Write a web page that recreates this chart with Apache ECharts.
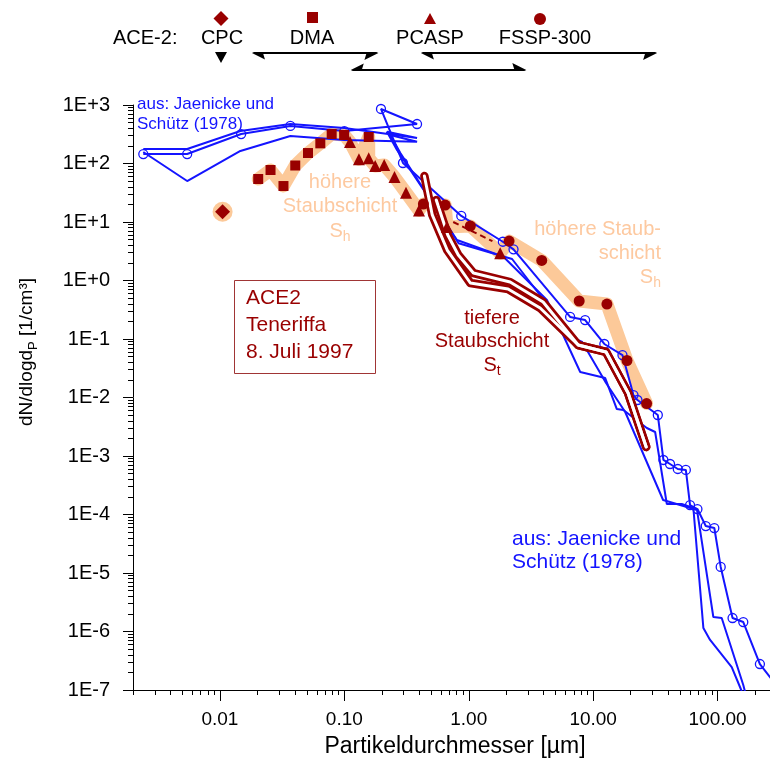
<!DOCTYPE html>
<html><head><meta charset="utf-8">
<script src="https://cdn.jsdelivr.net/npm/echarts@6/dist/echarts.min.js"></script>
<style>html,body{margin:0;padding:0;background:#fff}#c{width:770px;height:760px}</style>
</head><body><div id="c"></div>
<script>
// ---------- data (particle diameter in µm, dN/dlogdP in 1/cm³) ----------
// Jaenicke & Schütz (1978) curves
const jaenA_d = [0.00242,0.00545,0.0148,0.0368,0.100,0.384,0.197,0.296,0.871,1.88,2.29,6.53,8.62,12.3,17.2,21.1,22.7,33.1,36.7,41.5,47.9,55.6,60.1,68.9,80.4,94.2,106,132,161,219,300];
const jaenA_n = [145,145,319,438,359,473,855,102,12.7,4.60,3.41,0.238,0.211,0.0822,0.0532,0.0110,0.00906,0.00502,0.000855,0.00073,0.0006,0.000577,1.45e-4,1.24e-4,6.35e-5,5.87e-5,1.27e-5,1.70e-6,1.45e-6,2.78e-7,1.17e-7];
const jaenB_d = [0.00242,0.00545,0.0146,0.0368,0.100,0.384,0.220,0.265,0.491,0.804,1.90,4.25,7.87,12.5,15.5,17.5,27.0,31.5,39.1,51.5,63.9,76.9,87.1,130,155,166];
const jaenB_n = [177,177,359,473,404,273,350,170,23.8,4.92,2.55,0.464,0.0273,0.0215,0.00635,0.00611,0.00301,0.00257,1.51e-4,1.51e-4,1.29e-4,1.15e-6,7.16e-7,2.47e-7,1e-7,6.7e-8];
const jaenC_d = [0.00242,0.00545,0.0146,0.0368,0.100,0.384,0.234,0.282,0.828,2.23,6.90,8.16,12.7,18.1,36.5,68.4,92.5,108,161,169];
const jaenC_n = [157,50.2,164,295,252,236,307,151,4.32,2.33,0.104,0.0889,0.0177,0.00565,1.77e-4,1.19e-4,1.77e-6,1.70e-6,1.22e-7,8.2e-8];
// ACE-2 instruments
const cpc_d = [0.0105];
const cpc_n = [15.0];
const dma_d = [0.0203,0.0255,0.0324,0.0403,0.0510,0.0641,0.0791,0.0996,0.157];
const dma_n = [54.3,77.4,41.2,92.4,151,221,319,307,284];
const pcasp_d = [0.111,0.131,0.157,0.177,0.209,0.253,0.313,0.398,0.668,1.79];
const pcasp_n = [233,118,123,90.6,94.3,58.8,31.7,15.8,8.22,2.92];
const pcaspDash_d = [0.75,1.55];
const pcaspDash_n = [10.0,4.7];
const fssp_d = [0.432,0.647,1.03,2.11,3.86,7.72,12.9,18.7,26.9];
const fssp_n = [20.3,19.5,8.54,4.73,2.20,0.446,0.396,0.0429,0.00789];
// lower dust layer (tiefere Staubschicht)
const tief1_d = [0.440,0.509,0.671,1.03,2.07,3.75,7.58,12.7,19.1,26.7];
const tief1_n = [61.1,13.2,3.32,0.906,0.716,0.339,0.0789,0.0600,0.0119,0.00143];
const tief2_d = [0.548,0.678,0.824,1.09,2.15,3.96,7.58,12.7,19.1,26.7];
const tief2_n = [23.8,6.0,2.73,1.34,0.942,0.429,0.0789,0.0600,0.0119,0.00143];
// instrument size ranges (arrows at top)
const dmaRange = [0.0204,0.165];
const fsspRange = [0.465,28.7];
const pcaspRange = [0.127,2.55];
// axes
const xMinVal = 0.002, xMaxVal = 264;
const xTickVals = [0.01,0.1,1,10,100];
const yMinExp = -7, yMaxExp = 3;

// ---------- build ----------
const L = Math.log10;
const FF = "'Liberation Sans', Arial, Helvetica, sans-serif";
const BLUE = '#1414ff', DRED = '#990000', ORANGE = '#fcc999', OTEXT = '#fdc9a0';
const pts = (ds, ns) => ds.map((d, i) => [L(d), L(ns[i])]);
const XMIN = L(xMinVal), XMAX = L(xMaxVal);

const bandPts = [];
dma_d.forEach((d,i)=>bandPts.push([d,dma_n[i]]));
pcasp_d.forEach((d,i)=>bandPts.push([d,pcasp_n[i]]));
fssp_d.forEach((d,i)=>bandPts.push([d,fssp_n[i]]));
bandPts.sort((a,b)=>a[0]-b[0]);
const bandData = bandPts.map(p=>[L(p[0]),L(p[1])]);

const xMinor = [];
for (let n=-3;n<=2;n++) for (let k=2;k<=9;k++){ const v=L(k*Math.pow(10,n)); if (v>=XMIN-1e-9 && v<=XMAX) xMinor.push(v); }
const yMinor = [];
for (let n=yMinExp;n<yMaxExp;n++) for (let k=2;k<=9;k++) yMinor.push(L(k*Math.pow(10,n)));

const chart = echarts.init(document.getElementById('c'), null, {renderer:'canvas'});

function blueLine(ds, ns, circles){
  return {type:'line', data: pts(ds,ns), silent:true, z:3,
    symbol: circles ? 'circle' : 'none', symbolSize: 9, showAllSymbol: true,
    itemStyle: {color:'rgba(0,0,0,0)', borderColor: BLUE, borderWidth: 1.3},
    lineStyle: {color: BLUE, width: 2}, emphasis:{disabled:true}};
}
function tiefLine(ds, ns, color, width, z){
  return {type:'line', data: pts(ds,ns), silent:true, z:z, symbol:'none',
    lineStyle:{color:color, width:width, cap:'round', join:'round'}, emphasis:{disabled:true}};
}
function scat(ds, ns, symbol, size, color, z){
  return {type:'scatter', data: pts(ds,ns), silent:true, z:z, symbol:symbol, symbolSize:size,
    itemStyle:{color:color, opacity:1}, emphasis:{disabled:true}};
}

function txt(x, y, text, size, color, align, rich){
  const st = {text:text, fontSize:size, fontFamily:FF, fill:color, align:align||'left', verticalAlign:'middle',
              textAlign:align||'left', textVerticalAlign:'middle'};
  if (rich) st.rich = rich;
  return {type:'text', x:x, y:y, silent:true, z:100, style:st};
}
function subRich(size, color){
  return { n:{fontSize:size, fontFamily:FF, fill:color, lineHeight:size+6},
           s:{fontSize:Math.round(size*0.68), fontFamily:FF, fill:color, lineHeight:Math.round(size*0.68), verticalAlign:'bottom'} };
}

const ARROW = 'path://M6,0 L12,13 L6,11 L0,13 Z';

const option = {
  animation:false,
  grid:[
    {left:133, right:0, top:105, bottom:70},
    {left:133, right:0, top:53, height:17}
  ],
  xAxis:[
    {type:'value', gridIndex:0, min:XMIN, max:XMAX, position:'bottom',
     axisLine:{onZero:false, lineStyle:{color:'#000', width:1}},
     axisTick:{customValues: xTickVals.map(L), length:11, lineStyle:{color:'#000', width:1}},
     axisLabel:{customValues: xTickVals.map(L), margin:20, fontSize:19, fontFamily:FF, color:'#000',
       formatter: v => Math.pow(10, Math.round(v)).toFixed(2)},
     splitLine:{show:false}},
    {type:'value', gridIndex:0, min:XMIN, max:XMAX, position:'bottom',
     axisLine:{show:false, onZero:false},
     axisTick:{customValues: xMinor, length:5, lineStyle:{color:'#000', width:1}},
     axisLabel:{show:false}, splitLine:{show:false}},
    {type:'value', gridIndex:1, min:XMIN, max:XMAX, show:false}
  ],
  yAxis:[
    {type:'value', gridIndex:0, min:yMinExp, max:yMaxExp, interval:1, position:'left',
     axisLine:{onZero:false, lineStyle:{color:'#000', width:1}},
     axisTick:{length:10, lineStyle:{color:'#000', width:1}},
     axisLabel:{margin:23, fontSize:20, fontFamily:FF, color:'#000',
       formatter: v => { const e = Math.round(v); return '1E' + (e>=0?'+':'-') + Math.abs(e); }},
     splitLine:{show:false}},
    {type:'value', gridIndex:0, min:yMinExp, max:yMaxExp, position:'left',
     axisLine:{show:false, onZero:false},
     axisTick:{customValues: yMinor, length:5, lineStyle:{color:'#000', width:1}},
     axisLabel:{show:false}, splitLine:{show:false}},
    {type:'value', gridIndex:1, min:0, max:1, show:false}
  ],
  series:[
    {type:'line', data: bandData, silent:true, z:1, symbol:'none',
     lineStyle:{color:ORANGE, width:13, cap:'round', join:'round'}, emphasis:{disabled:true}},
    scat(cpc_d, cpc_n, 'circle', 20, ORANGE, 1),
    blueLine(jaenB_d, jaenB_n, false),
    blueLine(jaenC_d, jaenC_n, false),
    blueLine(jaenA_d, jaenA_n, true),
    tiefLine(tief1_d, tief1_n, DRED, 8.5, 4),
    tiefLine(tief2_d, tief2_n, DRED, 8.5, 4),
    tiefLine(tief1_d, tief1_n, '#ffffff', 3, 4),
    tiefLine(tief2_d, tief2_n, '#ffffff', 3, 4),
    {type:'line', data: pts(pcaspDash_d, pcaspDash_n), silent:true, z:5, symbol:'none',
     lineStyle:{color:DRED, width:2, type:[6,4]}, emphasis:{disabled:true}},
    scat(dma_d, dma_n, 'rect', 10, DRED, 6),
    scat(pcasp_d, pcasp_n, 'triangle', 12, DRED, 6),
    scat(fssp_d, fssp_n, 'circle', 11, DRED, 6),
    scat(cpc_d, cpc_n, 'diamond', 15, DRED, 6),
    {type:'lines', coordinateSystem:'cartesian2d', xAxisIndex:2, yAxisIndex:2, silent:true, z:5,
     symbol:[ARROW, ARROW], symbolSize:[13,14],
     lineStyle:{color:'#000', width:2.2, opacity:1, curveness:0},
     data:[
       {coords:[[L(dmaRange[0]),1],[L(dmaRange[1]),1]]},
       {coords:[[L(fsspRange[0]),1],[L(fsspRange[1]),1]]},
       {coords:[[L(pcaspRange[0]),0],[L(pcaspRange[1]),0]]}
     ]}
  ],
  graphic:[
    // top legend
    txt(113, 38, 'ACE-2:', 20, '#000', 'left'),
    txt(222, 38, 'CPC', 20, '#000', 'center'),
    txt(312, 38, 'DMA', 20, '#000', 'center'),
    txt(430, 38, 'PCASP', 20, '#000', 'center'),
    txt(545, 38, 'FSSP-300', 20, '#000', 'center'),
    {type:'polygon', silent:true, shape:{points:[[221,11],[228.5,18.5],[221,26],[213.5,18.5]]}, style:{fill:DRED}},
    {type:'polygon', silent:true, shape:{points:[[215,52],[227,52],[221,63]]}, style:{fill:'#000'}},
    {type:'rect', silent:true, shape:{x:307, y:12, width:11, height:11}, style:{fill:DRED}},
    {type:'polygon', silent:true, shape:{points:[[430,13],[436,24],[424,24]]}, style:{fill:DRED}},
    {type:'circle', silent:true, shape:{cx:540, cy:19, r:6}, style:{fill:DRED}},
    // annotations
    txt(137, 104, 'aus: Jaenicke und', 17, BLUE),
    txt(137, 124, 'Schütz (1978)', 17, BLUE),
    txt(512, 539, 'aus: Jaenicke und', 21, BLUE),
    txt(512, 562, 'Schütz (1978)', 21, BLUE),
    txt(340, 182, 'höhere', 20, OTEXT, 'center'),
    txt(340, 206, 'Staubschicht', 20, OTEXT, 'center'),
    txt(340, 231, '{n|S}{s|h}', 20, OTEXT, 'center', subRich(20, OTEXT)),
    txt(661, 229, 'höhere Staub-', 20, OTEXT, 'right'),
    txt(661, 253, 'schicht', 20, OTEXT, 'right'),
    txt(661, 277, '{n|S}{s|h}', 20, OTEXT, 'right', subRich(20, OTEXT)),
    txt(492, 318, 'tiefere', 20, DRED, 'center'),
    txt(492, 341, 'Staubschicht', 20, DRED, 'center'),
    txt(492, 365, '{n|S}{s|t}', 20, DRED, 'center', subRich(20, DRED)),
    {type:'rect', silent:true, z:90, shape:{x:234.5, y:280.5, width:141, height:93}, style:{fill:'#fff', stroke:'#a03535', lineWidth:1}},
    txt(246, 298, 'ACE2', 21, DRED),
    txt(246, 325, 'Teneriffa', 21, DRED),
    txt(246, 352, '8. Juli 1997', 21, DRED),
    // axis titles
    txt(455, 747, 'Partikeldurchmesser [µm]', 23, '#000', 'center'),
    Object.assign(txt(27, 352, '{n|dN/dlogd}{s|P}{n| [1/cm³]}', 19, '#000', 'center', subRich(19, '#000')), {rotation: Math.PI/2})
  ]
};
chart.setOption(option);
</script>
</body></html>
